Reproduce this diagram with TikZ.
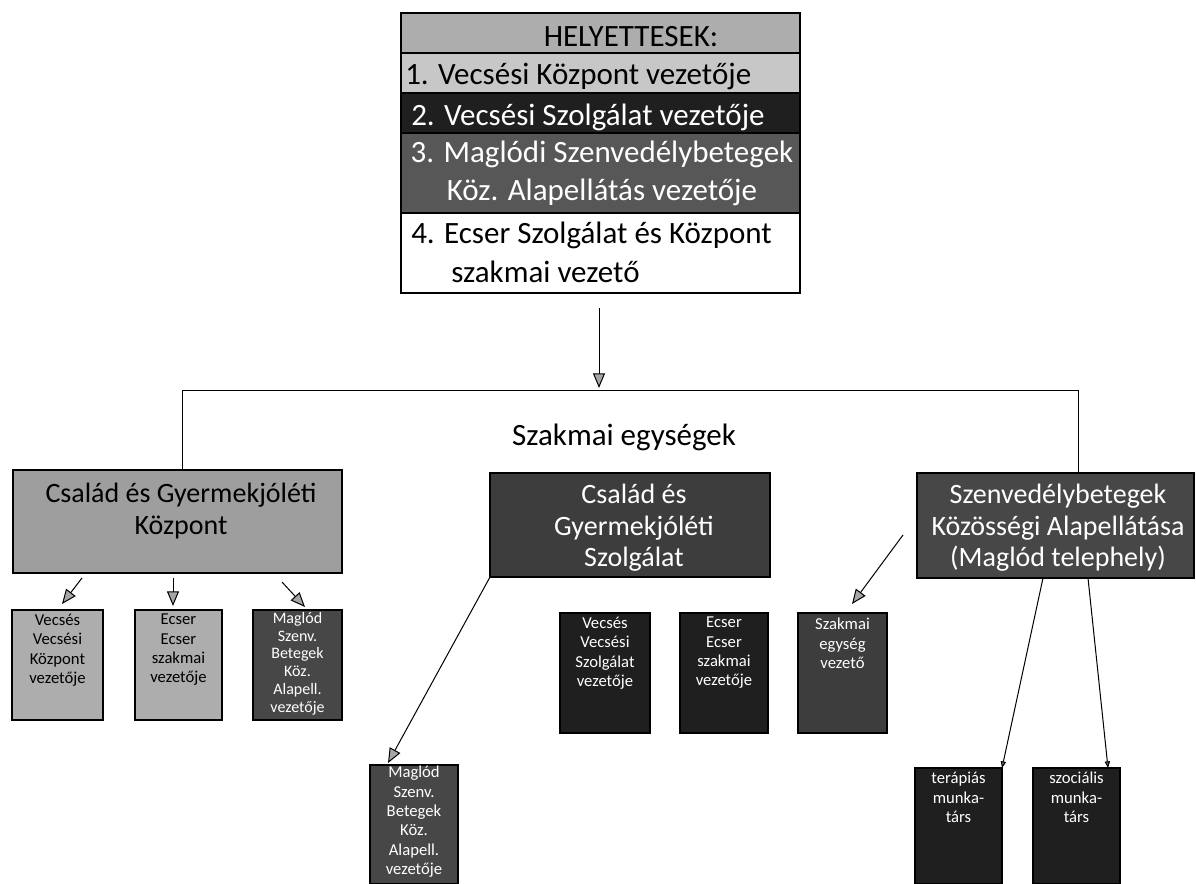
\documentclass[tikz,border=0pt]{standalone}
\usepackage{fontspec}
\setmainfont{Carlito}
\usetikzlibrary{arrows.meta}
\newcommand\pbox[7]{\node[#6, anchor=north west, minimum width={(#4-#2)*0.75pt}, minimum height={(#5-#3)*0.75pt}] (#1) at (#2,#3) {#7};}
\begin{document}
\begin{tikzpicture}[x=0.75pt,y=-0.75pt,
  boxbase/.style={draw=black, line width=1pt, inner sep=0pt, outer sep=0pt},
  lightA/.style={boxbase, fill=black!32},
  lightB/.style={boxbase, fill=black!22},
  lightC/.style={boxbase, fill=black!38},
  darkA/.style={boxbase, fill=black!88},
  darkB/.style={boxbase, fill=black!66},
  darkC/.style={boxbase, fill=black!76},
  darkD/.style={boxbase, fill=black!72},
  whitebox/.style={boxbase, fill=white},
  toptxt/.style={font=\fontsize{23.25}{28}\selectfont, inner sep=0pt},
  bigtxt/.style={font=\fontsize{21}{23.5}\selectfont, align=center, inner sep=0pt},
  smtxt/.style={font=\fontsize{12.5}{14.5}\selectfont, align=center, inner sep=0pt},
  smtxtc/.style={font=\fontsize{12}{13.3}\selectfont, align=center, inner sep=0pt},
  ln/.style={draw=black, line width=0.75pt},
  arr/.style={ln, -{Triangle[length=11pt,width=9pt,fill=black!35]}},
  tinyarr/.style={ln, -{Triangle[length=5pt,width=4pt,fill=black!60]}}
]
\useasboundingbox (0,0) rectangle (1196,883);

% top box rows
\pbox{r0}{401}{13}{800}{53}{lightA}{}
\pbox{r1}{401}{53}{800}{93}{lightB}{}
\pbox{r2}{401}{93}{800}{133}{darkA}{}
\pbox{r3}{401}{133}{800}{213}{darkB}{}
\pbox{r4}{401}{213}{800}{293}{whitebox}{}
\node[toptxt] (t0) at (631,37) {HELYETTESEK:};
\node[toptxt, anchor=base west] (t1) at (405,84) {1. Vecsési Központ vezetője};
\node[toptxt, anchor=base west, text=white] (t2) at (411,125) {2. Vecsési Szolgálat vezetője};
\node[toptxt, anchor=base, text=white] (t3a) at (602,162) {3. Maglódi Szenvedélybetegek};
\node[toptxt, anchor=base, text=white] (t3b) at (602,200) {Köz. Alapellátás vezetője};
\node[toptxt, anchor=base west] (t4a) at (411,243) {4. Ecser Szolgálat és Központ};
\node[toptxt, anchor=base west] (t4b) at (451,282) {szakmai vezető};

% label
\node[toptxt] (szak) at (624,437) {Szakmai egységek};

% big boxes
\pbox{lb}{13}{470}{342}{573}{lightC}{}
\node[bigtxt] (tlb) at (181,511) {Család és Gyermekjóléti\\Központ};
\pbox{mb}{490}{473}{770}{577}{darkC}{}
\node[bigtxt, text=white] (tmb) at (634,528) {Család és\\Gyermekjóléti\\Szolgálat};
\pbox{rb}{917}{473}{1194}{578}{darkD}{}
\node[bigtxt, text=white] (trb) at (1058,528) {Szenvedélybetegek\\Közösségi Alapellátása\\(Maglód telephely)};

% left group small boxes
\pbox{s1}{12}{610}{103}{720}{lightA}{}
\node[smtxt, anchor=north] (ts1) at (s1.north |- 0,614) {Vecsés\\Vecsési\\Központ\\vezetője};
\pbox{s2}{135}{610}{222}{720}{lightA}{}
\node[smtxt, anchor=north] (ts2) at (s2.north |- 0,614) {Ecser\\Ecser\\szakmai\\vezetője};
\pbox{s3}{253}{610}{342}{720}{darkD}{}
\node[smtxtc, anchor=north, text=white] (ts3) at (s3.north |- 0,612) {Maglód\\Szenv.\\Betegek\\Köz.\\Alapell.\\vezetője};

% middle group small boxes
\pbox{m1}{560}{613}{650}{733}{darkA}{}
\node[smtxt, anchor=north, text=white] (tm1) at (m1.north |- 0,617) {Vecsés\\Vecsési\\Szolgálat\\vezetője};
\pbox{m2}{680}{613}{768}{733}{darkA}{}
\node[smtxt, anchor=north, text=white] (tm2) at (m2.north |- 0,617) {Ecser\\Ecser\\szakmai\\vezetője};
\pbox{m3}{798}{613}{887}{733}{darkC}{}
\node[smtxt, anchor=north, text=white] (tm3) at (m3.north |- 0,618) {Szakmai\\egység\\vezető};

% bottom boxes
\pbox{b1}{370}{765}{458}{884}{darkD}{}
\node[smtxt, anchor=north, text=white] (tb1) at (b1.north |- 0,766) {Maglód\\Szenv.\\Betegek\\Köz.\\Alapell.\\vezetője};
\pbox{b2}{915}{768}{1002}{884}{darkA}{}
\node[smtxt, anchor=north, text=white] (tb2) at (b2.north |- 0,772) {terápiás\\munka-\\társ};
\pbox{b3}{1033}{768}{1120}{884}{darkA}{}
\node[smtxt, anchor=north, text=white] (tb3) at (b3.north |- 0,772) {szociális\\munka-\\társ};

% connectors
\coordinate (a0) at (599,308);
\coordinate (a1) at (599,388);
\draw[arr] (a0) -- (a1);
\coordinate (hL) at (182,390);
\coordinate (hR) at (1078,390);
\draw[ln] (lb.north -| hL) -- (hL) -- (hR) -- (rb.north -| hR);

\coordinate (l1s) at (82,578);  \coordinate (l1e) at (62,604);
\coordinate (l2s) at (173,578); \coordinate (l2e) at (173,606);
\coordinate (l3s) at (282,582); \coordinate (l3e) at (305,607);
\draw[arr] (l1s) -- (l1e);
\draw[arr] (l2s) -- (l2e);
\draw[arr] (l3s) -- (l3e);

\coordinate (mbe) at (388,763);
\draw[arr] (mb.south west) -- (mbe);

\coordinate (rs) at (903,535); \coordinate (re) at (852,604);
\draw[arr] (rs) -- (re);

\coordinate (rb1) at (1043,578); \coordinate (rb2) at (1088,578);
\draw[tinyarr] (rb1) -- (b2.north east);
\draw[tinyarr] (rb2) -- ([xshift=-12*0.75pt]b3.north east);
\end{tikzpicture}
\end{document}
